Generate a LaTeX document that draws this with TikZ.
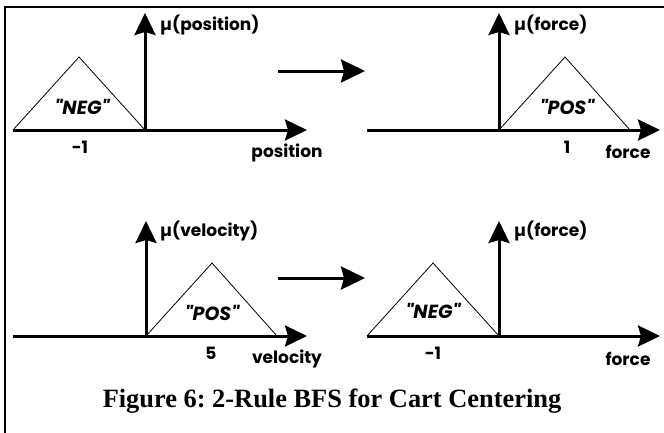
\documentclass[tikz,border=0pt]{standalone}
\usepackage{fontspec}
\setmainfont{Liberation Serif}
\newfontfamily\geofont{Poppins}
\usetikzlibrary{arrows.meta}
\frenchspacing
\begin{document}
\begin{tikzpicture}[x=1pt,y=-1pt,
  axis/.style={line width=3pt,-{Stealth[length=22pt,width=21pt,inset=3pt]}},
  rulearrow/.style={line width=3pt,-{Stealth[length=24pt,width=23pt,inset=3pt]}},
  mf/.style={line width=0.8pt,line join=miter},
  lbl/.style={font=\geofont\bfseries\fontsize{17}{19}\selectfont,inner sep=0pt},
  term/.style={font=\geofont\bfseries\itshape\fontsize{19}{21}\selectfont,inner sep=0pt},
  caption/.style={font=\bfseries\fontsize{26.4}{30}\selectfont,inner sep=0pt},
]
\useasboundingbox (0,0) rectangle (664,432);
% outer frame
\draw[line width=2.3pt] (5,440) -- (5,7) -- (670,7);

% --- rule 1, antecedent: position is NEG
\coordinate (o1) at (145,130);
\coordinate (xa1) at (13,130);
\coordinate (xb1) at (307,130);
\coordinate (yt1) at (145,13);
\coordinate (p1) at (79,57);
\draw[mf] (xa1) -- (p1) -- (o1);
\draw[axis] (xa1) -- (xb1);
\draw[axis] (o1) -- (yt1);
\node[lbl,anchor=west] (mu1) at (160,25) {µ(position)};
\node[lbl] (xl1) at (287,153) {position};
\node[lbl] (v1) at (80,147) {-1};
\node[term] (t1) at (82,107) {"NEG"};

% --- rule 1, consequent: force is POS
\coordinate (o2) at (499,130);
\coordinate (xa2) at (367,130);
\coordinate (xb2) at (660,130);
\coordinate (yt2) at (499,13);
\coordinate (p2) at (565,57);
\coordinate (r2) at (630,130);
\draw[mf] (o2) -- (p2) -- (r2);
\draw[axis] (xa2) -- (xb2);
\draw[axis] (o2) -- (yt2);
\node[lbl,anchor=west] (mu2) at (514,25) {µ(force)};
\node[lbl] (xl2) at (628,152) {force};
\node[lbl] (v2) at (567,147) {1};
\node[term] (t2) at (567,107) {"POS"};

% implication arrow of rule 1
\coordinate (ra1) at (278,71);
\coordinate (rb1) at (365,71);
\draw[rulearrow] (ra1) -- (rb1);

% --- rule 2, antecedent: velocity is POS
\coordinate (o3) at (146,336);
\coordinate (xa3) at (13,336);
\coordinate (xb3) at (307,336);
\coordinate (yt3) at (146,221);
\coordinate (p3) at (212,263);
\coordinate (r3) at (277,336);
\draw[mf] (o3) -- (p3) -- (r3);
\draw[axis] (xa3) -- (xb3);
\draw[axis] (o3) -- (yt3);
\node[lbl,anchor=west] (mu3) at (160,231) {µ(velocity)};
\node[lbl] (xl3) at (287,359) {velocity};
\node[lbl] (v3) at (211,353) {5};
\node[term] (t3) at (212,313) {"POS"};

% --- rule 2, consequent: force is NEG
\coordinate (o4) at (499,336);
\coordinate (xa4) at (367,336);
\coordinate (xb4) at (660,336);
\coordinate (yt4) at (499,221);
\coordinate (p4) at (433,263);
\draw[mf] (xa4) -- (p4) -- (o4);
\draw[axis] (xa4) -- (xb4);
\draw[axis] (o4) -- (yt4);
\node[lbl,anchor=west] (mu4) at (514,231) {µ(force)};
\node[lbl] (xl4) at (628,359) {force};
\node[lbl] (v4) at (433,353) {-1};
\node[term] (t4) at (433,311) {"NEG"};

% implication arrow of rule 2
\coordinate (ra2) at (278,278);
\coordinate (rb2) at (365,278);
\draw[rulearrow] (ra2) -- (rb2);

\node[caption] (cap) at (332,401) {Figure 6: 2-Rule BFS for Cart Centering};
\end{tikzpicture}
\end{document}
